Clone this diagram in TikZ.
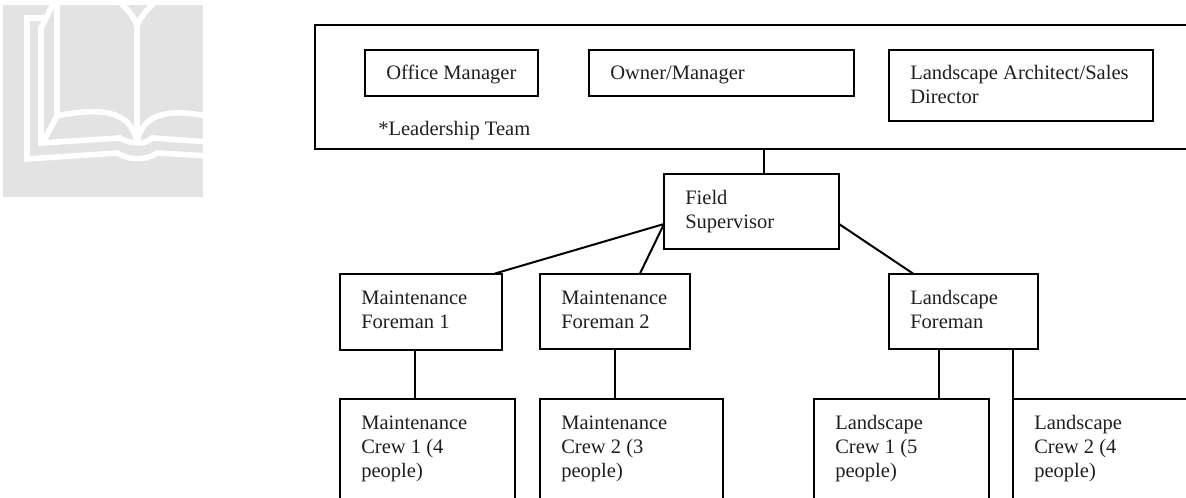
\documentclass[tikz,border=0pt]{standalone}
\usepackage{fontspec}
\setmainfont{Liberation Serif}
\newcommand{\orgbox}[6]{%
  \pgfmathsetmacro{\boxw}{(#4-#2)*0.75}%
  \pgfmathsetmacro{\boxh}{(#5-#3)*0.75}%
  \node[orgnode, minimum width=\boxw pt, minimum height=\boxh pt] (#1) at ({(#2+#4)/2},{(#3+#5)/2}) {};
  \node[orglabel] (#1-label) at (#2+21,#3+30) {\begin{tabular}[t]{@{}l@{}}#6\end{tabular}};
}
\tikzset{
  x=0.75pt, y=-0.75pt,
  orgnode/.style={draw=black, line width=1.5pt, inner sep=0pt, fill=none},
  orglabel/.style={anchor=base west, inner sep=0pt, text=black!88,
     font=\fontsize{15.4pt}{18.2pt}\selectfont},
  link/.style={draw=black, line width=1.5pt},
  bookline/.style={draw=white, line width=4.2pt, line join=miter, fill=none}
}
\begin{document}
\begin{tikzpicture}
\useasboundingbox (0,0) rectangle (1186,497);
\clip (0,0) rectangle (1186,497);
% book watermark
\begin{scope}
\clip (3,5) rectangle (203,197);
\fill[black!11] (3,5) rectangle (203,197);
\draw[bookline] (57,0) -- (57,116) .. controls (95,108) and (132,108) .. (137,143);
\draw[bookline] (137,143) .. controls (142,108) and (180,110) .. (210,117);
\draw[bookline] (137,143) -- (137,30) .. controls (137,20) and (130,12) .. (118,0);
\draw[bookline] (137,30) .. controls (137,20) and (145,12) .. (157,0);
\draw[bookline] (55,0) -- (41,28) -- (41,143) -- (120,138) .. controls (128,143) and (145,146) .. (152,138) -- (210,142);
\draw[bookline] (57,116) -- (43,142);
\draw[bookline] (46,18) -- (27,18) -- (27,159) -- (117,153) .. controls (128,160) and (146,161) .. (157,153) -- (210,156);
\end{scope}
% outer box
\orgbox{team}{315}{24.5}{1260}{149}{}
\node[orglabel] (teamlabel) at (378,135) {*Leadership Team};
% boxes
\orgbox{office}{365}{49.5}{538}{95.5}{Office Manager}
\orgbox{owner}{589}{49.5}{854}{95.5}{Owner/Manager}
\orgbox{arch}{889}{49.5}{1153}{120.5}{Landscape Architect/Sales\\Director}
\orgbox{field}{664}{174}{839}{249}{Field\\Supervisor}
\orgbox{mf1}{340}{274}{502}{349.5}{Maintenance\\Foreman 1}
\orgbox{mf2}{540}{274}{690}{349}{Maintenance\\Foreman 2}
\orgbox{lf}{889}{274}{1038}{349}{Landscape\\Foreman}
\orgbox{mc1}{340}{399}{515}{560}{Maintenance\\Crew 1 (4\\people)}
\orgbox{mc2}{540}{399}{723}{560}{Maintenance\\Crew 2 (3\\people)}
\orgbox{lc1}{814}{399}{989}{560}{Landscape\\Crew 1 (5\\people)}
\orgbox{lc2}{1013}{399}{1260}{560}{Landscape\\Crew 2 (4\\people)}
% connectors
\coordinate (fieldL) at (664,224);
\coordinate (fieldR) at (839,224);
\draw[link] (764,149) -- (764,174);
\draw[link] (fieldL) -- (495,273.5);
\draw[link] (fieldL) -- (640,273.5);
\draw[link] (fieldR) -- (913,273.5);
\draw[link] (415,349.5) -- (415,399);
\draw[link] (615,349) -- (615,399);
\draw[link] (939,349) -- (939,399);
\draw[link] (1013,349) -- (1013,399);
\end{tikzpicture}
\end{document}
